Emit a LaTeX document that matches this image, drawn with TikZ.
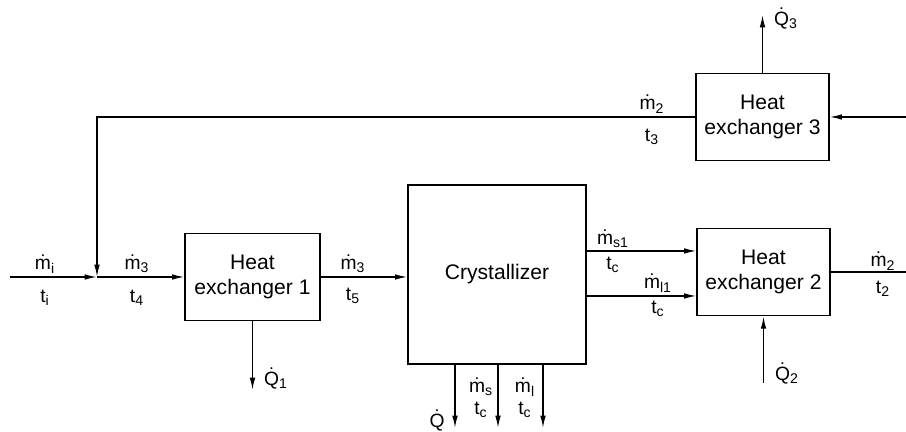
\documentclass[tikz,border=0pt]{standalone}
\usepackage{fontspec}
\setmainfont{Liberation Sans}
\usepackage{tikz}
\usetikzlibrary{arrows.meta, positioning}
\newcommand{\mflow}[1]{$\dot{\mathrm{m}}_{\mathrm{#1}}$}
\newcommand{\qflow}[1]{$\dot{\mathrm{Q}}_{\mathrm{#1}}$}
\newcommand{\tflow}[1]{$\mathrm{t}_{\mathrm{#1}}$}
\begin{document}
\begin{tikzpicture}[
          x=0.02cm, y=0.02cm,
          unit/.style={
              draw,
              line width=0.8pt,
              minimum width=2.7cm,
              minimum height=1.75cm,
              font=\large,
              align=center
            },
          lbl/.style={
              inner sep=0pt,
              font=\fontsize{10.95}{13.6}\selectfont
            },
          pipe/.style={line width=0.8pt},
          arr/.style={-{Latex[length=7pt, width=3.2pt]}, line width=0.8pt}
        ]
        \useasboundingbox (0,0) rectangle (906,432);
        \node[unit] (hxone) at (252.5,155) {Heat\\exchanger 1};
        \node[unit, minimum width=3.56cm, minimum height=3.58cm] (cryst) at (497,157.5) {Crystallizer};
        \node[unit, minimum width=2.66cm] (hxtwo) at (763.5,160) {Heat\\exchanger 2};
        \node[unit, minimum width=2.66cm] (hxthree) at (762.5,315) {Heat\\exchanger 3};
        \coordinate (feed) at (10,155);
        \coordinate (mix) at (97,155);
        \coordinate (bend) at (97,315);
        \coordinate (back) at (906,315);
        \coordinate (prod) at (906,160);
        \coordinate (qone) at (252.5,42);
        \coordinate (qtwo) at (763.5,49);
        \coordinate (qthree) at (762.5,417);
        \coordinate (sone) at (586,181);
        \coordinate (lone) at (586,136);
        \coordinate (qc) at (455,4);
        \coordinate (sc) at (498,4);
        \coordinate (lc) at (543,4);
        % streams
        \draw[arr] (feed) -- (mix);
        \draw[arr] (hxthree.west) -- (bend) -- (mix);
        \draw[arr] (mix) -- (hxone.west);
        \draw[arr] (hxone.east) -- (hxone.east -| cryst.west);
        \draw[arr] (sone) -- (sone -| hxtwo.west);
        \draw[arr] (lone) -- (lone -| hxtwo.west);
        \draw[pipe] (hxtwo.east) -- (prod);
        \draw[arr] (back) -- (hxthree.east);
        \draw[arr] (cryst.south -| qc) -- (qc);
        \draw[arr] (cryst.south -| sc) -- (sc);
        \draw[arr] (cryst.south -| lc) -- (lc);
        % heat flows
        \draw[arr] (hxone.south) -- (qone);
        \draw[arr] (qtwo) -- (hxtwo.south);
        \draw[arr] (hxthree.north) -- (qthree);
        % labels
        \node[lbl] (lmi) at (45,168) {\mflow{i}};
        \node[lbl] (lti) at (45,134) {\tflow{i}};
        \node[lbl] (lmthree) at (137,168) {\mflow{3}};
        \node[lbl] (ltfour) at (137,134) {\tflow{4}};
        \node[lbl] (lmthreeb) at (353,168) {\mflow{3}};
        \node[lbl] (ltfive) at (353,136) {\tflow{5}};
        \node[lbl] (lqone) at (276,54) {\qflow{1}};
        \node[lbl] (lmsone) at (613,193) {\mflow{s1}};
        \node[lbl] (ltcone) at (613,167) {\tflow{c}};
        \node[lbl] (lmlone) at (658,149) {\mflow{l1}};
        \node[lbl] (ltctwo) at (658,123) {\tflow{c}};
        \node[lbl] (lmtwo) at (883,171) {\mflow{2}};
        \node[lbl] (lttwo) at (883,143) {\tflow{2}};
        \node[lbl] (lqtwo) at (787,59) {\qflow{2}};
        \node[lbl] (lq) at (437,12) {$\dot{\mathrm{Q}}$};
        \node[lbl] (lms) at (481,45) {\mflow{s}};
        \node[lbl] (ltcs) at (481,22) {\tflow{c}};
        \node[lbl] (lml) at (525,45) {\mflow{l}};
        \node[lbl] (ltcl) at (525,22) {\tflow{c}};
        \node[lbl] (lqthree) at (786,414) {\qflow{3}};
        \node[lbl] (lmtwob) at (652,328) {\mflow{2}};
        \node[lbl] (ltthree) at (652,295) {\tflow{3}};
      \end{tikzpicture}
\end{document}
